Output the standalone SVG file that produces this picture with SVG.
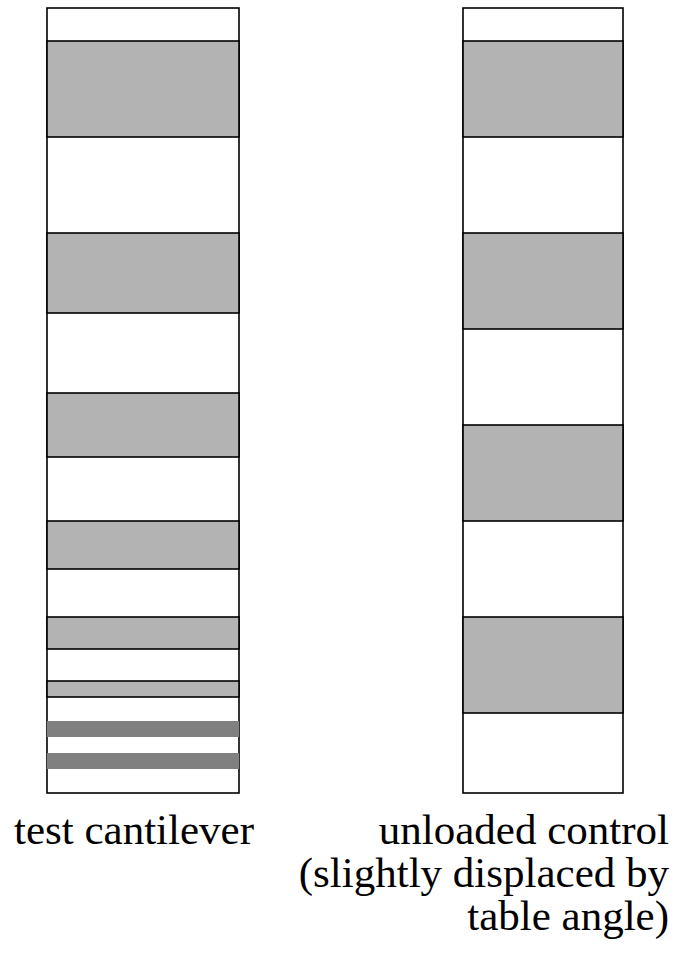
<svg xmlns="http://www.w3.org/2000/svg" width="684" height="956" viewBox="0 0 684 956">
<style>
.frame{fill:#fff;stroke:#000;stroke-width:1.6}
.band{fill:#b3b3b3;stroke:#000;stroke-width:1.6}
.dark{fill:#808080;stroke:none}
.lbl{font-family:"Liberation Serif","Times New Roman",serif;font-size:43px;fill:#000}
</style>
<rect width="684" height="956" fill="#fff"/>
<g id="test-cantilever">
<rect class="frame" x="47" y="8" width="192" height="785"/>
<rect class="band" x="47" y="41" width="192" height="96"/>
<rect class="band" x="47" y="233" width="192" height="80"/>
<rect class="band" x="47" y="393" width="192" height="64"/>
<rect class="band" x="47" y="521" width="192" height="48"/>
<rect class="band" x="47" y="617" width="192" height="32"/>
<rect class="band" x="47" y="681" width="192" height="16"/>
<rect class="dark" x="47" y="721" width="192" height="16"/>
<rect class="dark" x="47" y="753" width="192" height="16"/>
<text class="lbl" x="134" y="844" text-anchor="middle">test cantilever</text>
</g>
<g id="unloaded-control">
<rect class="frame" x="463" y="8" width="160" height="785"/>
<rect class="band" x="463" y="41" width="160" height="96"/>
<rect class="band" x="463" y="233" width="160" height="96"/>
<rect class="band" x="463" y="425" width="160" height="96"/>
<rect class="band" x="463" y="617" width="160" height="96"/>
<text class="lbl" text-anchor="end"><tspan x="669" y="844">unloaded control</tspan><tspan x="669" y="887">(slightly displaced by</tspan><tspan x="669" y="930">table angle)</tspan></text>
</g>
<g id="connectors"></g>
</svg>
